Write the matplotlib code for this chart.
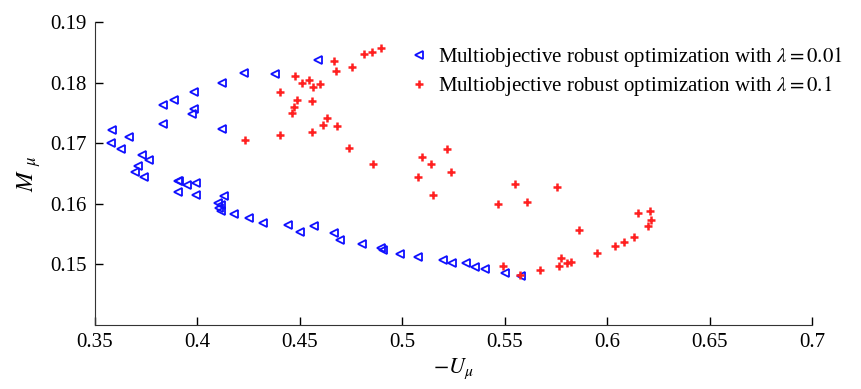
import matplotlib
matplotlib.use('Agg')
import matplotlib.pyplot as plt

plt.rcParams['font.family'] = ['Liberation Serif', 'DejaVu Serif']
plt.rcParams['mathtext.fontset'] = 'stix'

# lambda = 0.01 (blue triangles)
u_001 = [0.4587, 0.4229, 0.4379, 0.4123, 0.3985, 0.3887, 0.3832, 0.3985, 0.3972,
         0.3832, 0.4121, 0.3583, 0.3667, 0.3577, 0.3630, 0.3729, 0.3765, 0.3711,
         0.3694, 0.3739, 0.3907, 0.3910, 0.3952, 0.3996, 0.3907, 0.3993, 0.4131,
         0.4099, 0.4118, 0.4107, 0.4114, 0.4179, 0.4250, 0.4322, 0.4441, 0.4501,
         0.4571, 0.4668, 0.4696, 0.4802, 0.4899, 0.4907, 0.4989, 0.5075, 0.5197,
         0.5241, 0.5311, 0.5355, 0.5404, 0.5501, 0.5579]
m_001 = [0.1838, 0.1816, 0.1814, 0.1800, 0.1784, 0.1772, 0.1763, 0.1756, 0.1748,
         0.1731, 0.1723, 0.1722, 0.1710, 0.1701, 0.1690, 0.1681, 0.1673, 0.1663,
         0.1652, 0.1645, 0.1638, 0.1637, 0.1631, 0.1634, 0.1619, 0.1615, 0.1613,
         0.1602, 0.1598, 0.1593, 0.1588, 0.1583, 0.1577, 0.1569, 0.1565, 0.1553,
         0.1563, 0.1551, 0.1540, 0.1534, 0.1527, 0.1524, 0.1517, 0.1512, 0.1508,
         0.1503, 0.1502, 0.1495, 0.1492, 0.1486, 0.1481]

# lambda = 0.1 (red plus)
u_01 = [0.4665, 0.4676, 0.4478, 0.4546, 0.4512, 0.4598, 0.4564, 0.4403, 0.4485,
        0.4559, 0.4471, 0.4462, 0.4633, 0.4614, 0.4681, 0.4558, 0.4403, 0.4231,
        0.4741, 0.4857, 0.4755, 0.4815, 0.4855, 0.4895, 0.5220, 0.5096, 0.5140,
        0.5238, 0.5075, 0.5151, 0.5550, 0.5754, 0.5466, 0.5607, 0.5864, 0.6149,
        0.6207, 0.6214, 0.6198, 0.6131, 0.6084, 0.6041, 0.5949, 0.5773, 0.5765,
        0.5806, 0.5822, 0.5672, 0.5493, 0.5575]
m_01 = [0.1836, 0.1819, 0.1811, 0.1805, 0.1799, 0.1798, 0.1792, 0.1784, 0.1772,
        0.1769, 0.1759, 0.1750, 0.1742, 0.1730, 0.1729, 0.1719, 0.1713, 0.1705,
        0.1692, 0.1666, 0.1826, 0.1847, 0.1851, 0.1857, 0.1690, 0.1678, 0.1665,
        0.1652, 0.1644, 0.1615, 0.1633, 0.1627, 0.1600, 0.1603, 0.1556, 0.1585,
        0.1588, 0.1573, 0.1564, 0.1546, 0.1537, 0.1530, 0.1518, 0.1510, 0.1498,
        0.1502, 0.1504, 0.1490, 0.1497, 0.1482]

xticks = [0.35, 0.4, 0.45, 0.5, 0.55, 0.6, 0.65, 0.7]
yticks = [0.15, 0.16, 0.17, 0.18, 0.19]

fig = plt.figure(figsize=(8.62, 3.89), dpi=100)
ax = fig.add_axes([0.110, 0.1645, 0.832, 0.779])

ax.plot(u_001, m_001, linestyle='none', marker='<', markersize=5.5,
        markerfacecolor='none', markeredgecolor='#1010ff', markeredgewidth=1.3,
        label=r'Multiobjective robust optimization with $\lambda = 0.01$')
ax.plot(u_01, m_01, linestyle='none', marker='+', markersize=5.5,
        color='#ff2020', markeredgewidth=1.8,
        label=r'Multiobjective robust optimization with $\lambda = 0.1$')

ax.set_xlim(0.35, 0.7)
ax.set_ylim(0.14, 0.19)
ax.set_xticks(xticks)
ax.set_xticklabels(['0.35', '0.4', '0.45', '0.5', '0.55', '0.6', '0.65', '0.7'])
ax.set_yticks(yticks)
ax.set_yticklabels(['0.15', '0.16', '0.17', '0.18', '0.19'])
ax.tick_params(direction='in', length=6, width=1, labelsize=15, pad=6)

ax.spines['top'].set_visible(False)
ax.spines['right'].set_visible(False)
ax.spines['left'].set_color('#333333')
ax.spines['bottom'].set_color('#333333')

ax.set_xlabel(r'$-U_{\mu}$', fontsize=16, labelpad=3)
ax.set_ylabel(r'$M\ _{\mu}$', fontsize=17, labelpad=5)

fig.legend(loc='upper left', bbox_to_anchor=(0.468, 0.905), frameon=False,
           fontsize=15, handlelength=0.7, handletextpad=0.55, labelspacing=0.25,
           borderaxespad=0)

fig.savefig('out.png', dpi=100)
